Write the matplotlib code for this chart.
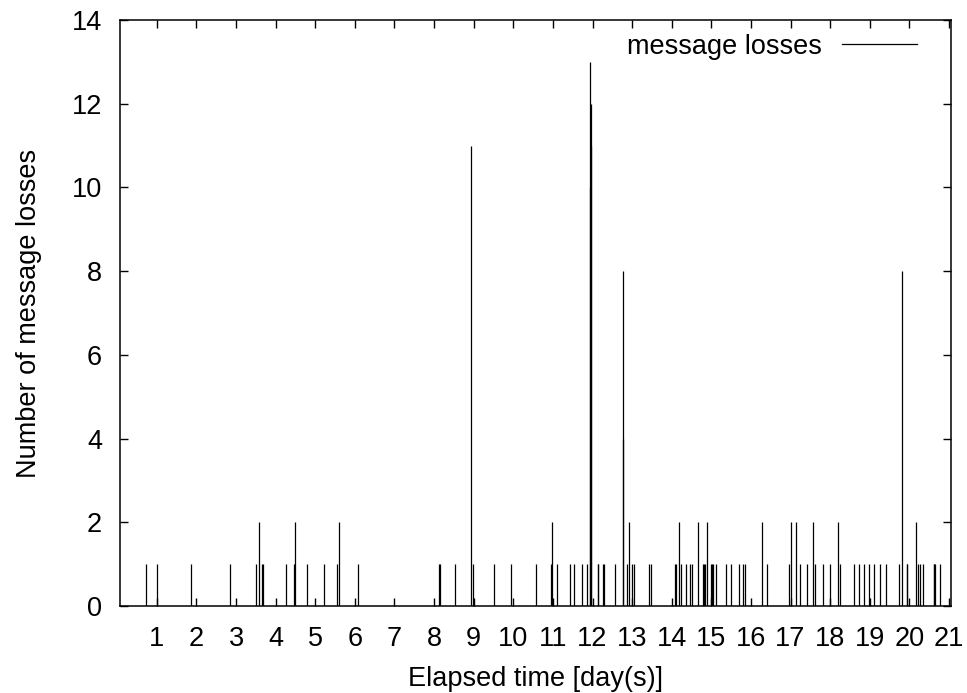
import matplotlib
matplotlib.use("Agg")
import matplotlib.pyplot as plt
from matplotlib.lines import Line2D

plt.rcParams["font.family"] = ["Liberation Sans", "DejaVu Sans"]

# elapsed time of each loss event (days) and number of lost messages
days = [0.73, 1.00, 1.85, 2.84, 3.50, 3.58, 3.66, 3.68, 4.27, 4.46, 4.49, 4.80,
        5.22, 5.55, 5.59, 6.07, 8.12, 8.14, 8.53, 8.93, 8.98, 9.51, 9.95, 10.58,
        10.96, 10.98, 11.10, 11.43, 11.52, 11.73, 11.87, 11.93, 11.94, 11.95, 11.955,
        12.13, 12.15, 12.27, 12.29, 12.58, 12.77, 12.775, 12.87, 12.93, 13.00, 13.05,
        13.43, 13.48, 14.07, 14.11, 14.18, 14.24, 14.35, 14.46, 14.52, 14.66, 14.79,
        14.82, 14.85, 14.88, 14.98, 15.01, 15.04, 15.11, 15.37, 15.49, 15.70, 15.79,
        15.86, 16.29, 16.40, 16.97, 17.00, 17.14, 17.24, 17.41, 17.56, 17.62, 17.82,
        17.99, 18.20, 18.25, 18.59, 18.73, 18.86, 18.99, 19.11, 19.27, 19.40, 19.75,
        19.81, 19.93, 19.95, 20.18, 20.22, 20.28, 20.35, 20.61, 20.63, 20.65, 20.78]
losses = [1, 1, 1, 1, 1, 2, 1, 1, 1, 1, 2, 1,
          1, 1, 2, 1, 1, 1, 1, 11, 1, 1, 1, 1,
          1, 2, 1, 1, 1, 1, 1, 10, 13, 12, 11,
          1, 1, 1, 1, 1, 8, 4, 1, 2, 1, 1,
          1, 1, 1, 1, 2, 1, 1, 1, 1, 2, 1,
          1, 1, 2, 1, 1, 1, 1, 1, 1, 1, 1,
          1, 2, 1, 1, 2, 2, 1, 1, 2, 1, 1,
          1, 2, 1, 1, 1, 1, 1, 1, 1, 1, 1,
          8, 1, 1, 2, 1, 1, 1, 1, 1, 1, 1]

x_ticks = list(range(1, 22))
y_ticks = list(range(0, 15, 2))

fs = 19.5

fig = plt.figure(figsize=(9.67, 6.93), dpi=100)
ax = fig.add_axes([0.1241, 0.1255, 0.8589, 0.8456])

ax.vlines(days, 0, losses, color="black", lw=0.9)

ax.set_xlim(0.07, 21.04)
ax.set_ylim(0, 14)
ax.set_xticks(x_ticks)
ax.set_yticks(y_ticks)
ax.tick_params(direction="in", length=6, width=1, top=True, right=True,
               labelsize=fs)
ax.tick_params(axis="x", pad=14.5)
ax.tick_params(axis="y", pad=13)
for s in ax.spines.values():
    s.set_linewidth(1.1)

ax.set_xlabel("Elapsed time [day(s)]", fontsize=fs, labelpad=10)
ax.set_ylabel("Number of message losses", fontsize=fs, labelpad=21)

handle = Line2D([], [], color="black", lw=0.9)
ax.legend([handle], ["message losses"], loc="upper right", markerfirst=False,
          frameon=False, fontsize=fs, handlelength=2.77, handletextpad=0.74,
          borderaxespad=0, bbox_to_anchor=(0.973, 0.995))

fig.savefig("out.png", dpi=100)
